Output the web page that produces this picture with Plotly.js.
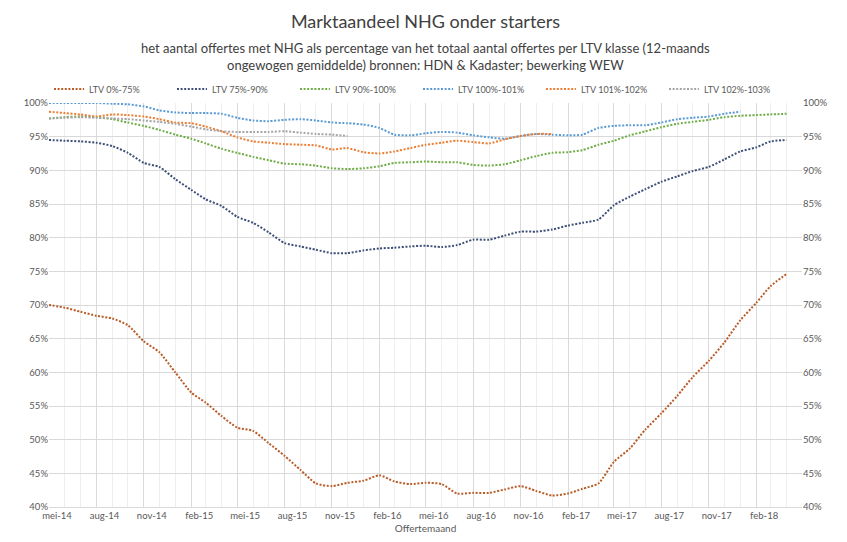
<!DOCTYPE html>
<html>
<head>
<meta charset="utf-8">
<script src="https://cdn.plot.ly/plotly-3.0.1.min.js"></script>
<style>html,body{margin:0;padding:0;background:#fff;}#chart{width:847px;height:542px;}</style>
</head>
<body>
<div id="chart"></div>
<script>
// Month of offer (12-month rolling averages), one point per month
const months = [
  "2014-05-01","2014-06-01","2014-07-01","2014-08-01","2014-09-01","2014-10-01","2014-11-01","2014-12-01",
  "2015-01-01","2015-02-01","2015-03-01","2015-04-01","2015-05-01","2015-06-01","2015-07-01","2015-08-01",
  "2015-09-01","2015-10-01","2015-11-01","2015-12-01","2016-01-01","2016-02-01","2016-03-01","2016-04-01",
  "2016-05-01","2016-06-01","2016-07-01","2016-08-01","2016-09-01","2016-10-01","2016-11-01","2016-12-01",
  "2017-01-01","2017-02-01","2017-03-01","2017-04-01","2017-05-01","2017-06-01","2017-07-01","2017-08-01",
  "2017-09-01","2017-10-01","2017-11-01","2017-12-01","2018-01-01","2018-02-01","2018-03-01","2018-04-01"
];

// Tick labels (every quarter)
const tickDates = [
  "2014-05-01","2014-08-01","2014-11-01","2015-02-01","2015-05-01","2015-08-01","2015-11-01","2016-02-01",
  "2016-05-01","2016-08-01","2016-11-01","2017-02-01","2017-05-01","2017-08-01","2017-11-01","2018-02-01"
];
const tickLabels = [
  "mei-14","aug-14","nov-14","feb-15","mei-15","aug-15","nov-15","feb-16",
  "mei-16","aug-16","nov-16","feb-17","mei-17","aug-17","nov-17","feb-18"
];

const seriesNames = ["LTV 0%-75%","LTV 75%-90%","LTV 90%-100%","LTV 100%-101%","LTV 101%-102%","LTV 102%-103%"];

// Share of NHG (%)
const ltv0_75 = [70.0,69.6,69.0,68.4,68.0,67.0,64.6,63.0,60.0,57.0,55.5,53.5,51.8,51.3,49.5,47.6,
  45.5,43.5,43.1,43.6,43.9,44.7,43.8,43.4,43.6,43.4,42.0,42.1,42.1,42.6,43.1,42.4,
  41.7,42.0,42.7,43.5,46.7,48.7,51.5,53.9,56.5,59.3,61.7,64.4,67.7,70.3,72.8,74.6];
const ltv75_90 = [94.5,94.4,94.3,94.1,93.6,92.6,91.1,90.5,88.7,87.1,85.7,84.7,83.1,82.2,80.8,79.2,
  78.7,78.2,77.7,77.7,78.1,78.4,78.5,78.7,78.8,78.6,78.9,79.7,79.7,80.3,80.9,80.9,
  81.2,81.8,82.2,82.7,84.8,86.1,87.2,88.3,89.1,89.9,90.5,91.6,92.8,93.4,94.3,94.5];
const ltv90_100 = [97.7,97.9,98.0,97.9,97.6,97.1,96.6,96.0,95.3,94.7,94.0,93.2,92.6,92.0,91.5,91.0,
  90.9,90.7,90.3,90.2,90.3,90.6,91.1,91.2,91.3,91.2,91.2,90.8,90.7,90.9,91.5,92.1,
  92.6,92.7,93.0,93.8,94.4,95.2,95.8,96.4,96.9,97.2,97.5,97.9,98.1,98.2,98.3,98.4];
const ltv100_101 = [100.0,100.0,100.0,100.0,99.9,99.8,99.5,98.9,98.6,98.5,98.5,98.4,97.8,97.4,97.3,97.5,
  97.6,97.4,97.1,97.0,96.8,96.3,95.3,95.2,95.5,95.7,95.6,95.2,94.9,94.7,95.1,95.4,
  95.3,95.2,95.3,96.3,96.6,96.7,96.7,97.1,97.6,97.8,98.0,98.4,98.7];
const ltv101_102 = [98.7,98.5,98.3,98.0,98.3,98.2,98.0,97.6,97.1,97.0,96.5,95.8,94.9,94.3,94.1,93.9,
  93.8,93.7,93.1,93.3,92.7,92.5,92.8,93.3,93.8,94.1,94.4,94.2,94.0,94.6,95.1,95.4,95.4];
const ltv102_103 = [97.7,97.8,97.9,97.8,97.7,97.6,97.4,97.2,96.9,96.5,96.1,95.8,95.7,95.7,95.7,95.8,
  95.6,95.4,95.3,95.1];

const yTicks = [40,45,50,55,60,65,70,75,80,85,90,95,100];
const yTickLabels = yTicks.map(v => v + "%");

const colors = ["#B95C28","#3E5077","#70AD47","#5B9BD5","#ED7D31","#A5A5A5"];
const allSeries = [ltv0_75, ltv75_90, ltv90_100, ltv100_101, ltv101_102, ltv102_103];

const traces = allSeries.map((vals, i) => ({
  type: "scatter",
  mode: "lines",
  name: seriesNames[i],
  x: months.slice(0, vals.length),
  y: vals,
  line: {color: colors[i], width: 2, dash: "2px,1.6px", shape: "spline", smoothing: 0.6},
  hoverinfo: "x+y+name"
}));
// invisible trace on right axis so it is drawn
traces.push({type:"scatter", mode:"lines", x: months.slice(0,1), y:[70], yaxis:"y2", showlegend:false, hoverinfo:"skip", line:{color:"rgba(0,0,0,0)"}});

const FONT = "Lato, 'Open Sans', sans-serif";
const layout = {
  width: 847, height: 542,
  margin: {l: 49, r: 45, t: 103, b: 35},
  paper_bgcolor: "#ffffff", plot_bgcolor: "#ffffff",
  font: {family: FONT, size: 10, color: "#595959"},
  title: {
    text: "Marktaandeel NHG onder starters",
    font: {family: FONT, size: 18, color: "#404040"},
    x: 0.5, xanchor: "center", xref: "paper",
    y: 1 - 22/542, yanchor: "middle", yref: "container"
  },
  annotations: [{
    text: "het aantal offertes met NHG als percentage van het totaal aantal offertes per LTV klasse (12-maands<br>ongewogen gemiddelde) bronnen: HDN &amp; Kadaster; bewerking WEW",
    xref: "paper", yref: "paper", x: 0.5, y: 1 + (103-57)/404, xanchor: "center", yanchor: "middle",
    showarrow: false, align: "center",
    font: {family: FONT, size: 13, color: "#404040"}
  }],
  showlegend: true,
  legend: {
    orientation: "h", x: 0.0, xanchor: "left", y: 1 + (103-89)/404, yanchor: "middle",
    entrywidth: 78, entrywidthmode: "pixels", itemwidth: 30,
    font: {family: FONT, size: 9, color: "#595959"}, bgcolor: "rgba(0,0,0,0)", tracegroupgap: 0
  },
  xaxis: {
    type: "date",
    range: ["2014-05-01", "2018-05-01"],
    tickmode: "array", tickvals: tickDates, ticktext: tickLabels,
    ticklabelshift: 8, ticks: "",
    showgrid: true, gridcolor: "#D9D9D9", gridwidth: 1,
    minor: {dtick: "M1", tick0: "2014-05-01", showgrid: true, gridcolor: "#EEEEEE", gridwidth: 1, ticks: ""},
    showline: true, linecolor: "#D9D9D9", linewidth: 1,
    zeroline: false,
    tickfont: {family: FONT, size: 9.5, color: "#595959"},
    title: {text: "Offertemaand", font: {family: FONT, size: 10, color: "#595959"}, standoff: 4}
  },
  yaxis: {
    range: [40, 100],
    tickmode: "array", tickvals: yTicks, ticktext: yTickLabels,
    showgrid: true, gridcolor: "#D9D9D9", gridwidth: 1, zeroline: false,
    showline: false, ticks: "",
    tickfont: {family: FONT, size: 9.5, color: "#595959"}
  },
  yaxis2: {
    overlaying: "y", side: "right", matches: "y", range: [40, 100],
    tickmode: "array", tickvals: yTicks, ticktext: yTickLabels,
    showgrid: false, zeroline: false, showline: false, ticks: "",
    tickfont: {family: FONT, size: 9.5, color: "#595959"}
  }
};

Plotly.newPlot("chart", traces, layout, {displayModeBar: false, staticPlot: true});
</script>
</body>
</html>
